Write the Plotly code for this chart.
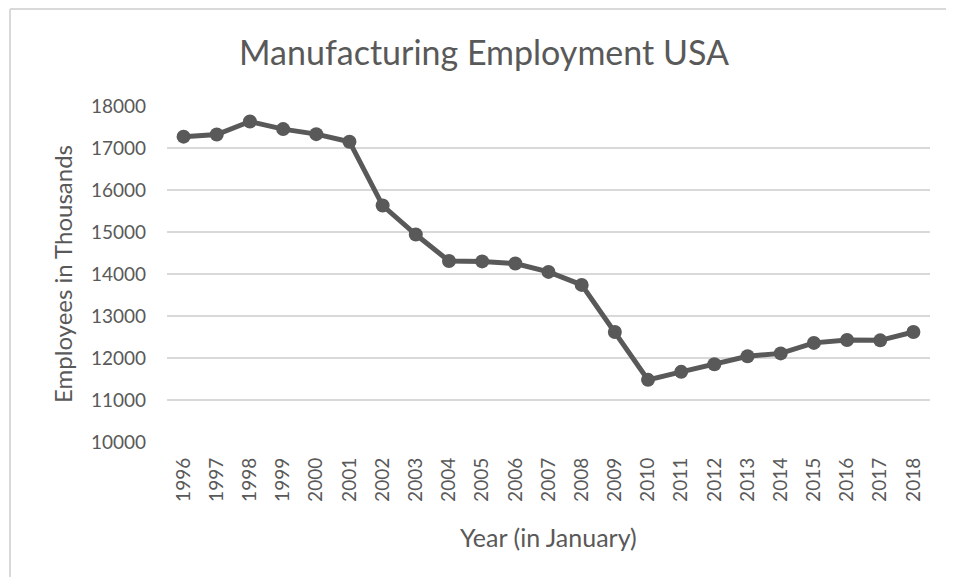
import plotly.graph_objects as go

years = [str(y) for y in range(1996, 2019)]
employees = [17270, 17320, 17630, 17450, 17330, 17150, 15630, 14940,
             14310, 14300, 14250, 14050, 13740, 12620, 11480, 11670,
             11850, 12040, 12110, 12360, 12430, 12420, 12620]
y_ticks = [10000, 11000, 12000, 13000, 14000, 15000, 16000, 17000, 18000]
y_labels = [str(v) for v in y_ticks]

TXT = "#595959"
FONT = "Lato"
OFF = 8  # page body margin
W, H = 954 - OFF, 577 - OFF
# target plot box in page pixels: x 167..930, y 106..442
L, T = 167 - OFF, 106 - OFF
R = W - (930 - OFF)
B = H - (442 - OFF)
PW, PH = W - L - R, H - T - B

def px(x):  # page pixel -> paper
    return (x - OFF - L) / PW

def py(y):
    return (T + PH - (y - OFF)) / PH

fig = go.Figure()
fig.add_trace(go.Scatter(
    x=years, y=employees, mode="lines+markers",
    line=dict(color="#595959", width=5),
    marker=dict(color="#595959", size=14),
    showlegend=False,
))

fig.update_layout(
    width=W, height=H,
    margin=dict(l=L, r=R, t=T, b=B),
    paper_bgcolor="white", plot_bgcolor="white",
    font=dict(family=FONT, color=TXT),
    title=dict(text="Manufacturing Employment USA", x=(484 - OFF) / W, xanchor="center",
               y=1 - (53 - OFF) / H, yanchor="middle", yref="container",
               font=dict(size=34, color=TXT, family=FONT)),
    xaxis=dict(
        type="category", range=[-0.5, len(years) - 0.5], automargin=False,
        tickangle=-90, showgrid=False, showline=False,
        ticks="", tickfont=dict(size=19, color=TXT), ticklabelstandoff=11,
    ),
    yaxis=dict(
        range=[10000, 18000], tickvals=y_ticks, ticktext=y_labels, automargin=False,
        showgrid=True, gridcolor="#d9d9d9", gridwidth=1.5, zeroline=False, showline=False,
        ticks="", tickfont=dict(size=19, color=TXT), ticklabelstandoff=20,
    ),
    annotations=[
        dict(text="Year (in January)", xref="paper", yref="paper",
             x=px(548), y=py(537), xanchor="center", yanchor="middle",
             showarrow=False, font=dict(size=25, color=TXT, family=FONT)),
        dict(text="Employees in Thousands", xref="paper", yref="paper",
             x=px(62), y=py(274), xanchor="center", yanchor="middle", textangle=-90,
             showarrow=False, font=dict(size=24, color=TXT, family=FONT)),
    ],
    shapes=[
        dict(type="line", xref="paper", yref="paper", x0=px(10), x1=px(960),
             y0=py(9), y1=py(9), line=dict(color="#d9d9d9", width=2)),
        dict(type="line", xref="paper", yref="paper", x0=px(10), x1=px(10),
             y0=py(9), y1=py(590), line=dict(color="#d9d9d9", width=2)),
    ],
)

fig.write_html("out.html")
